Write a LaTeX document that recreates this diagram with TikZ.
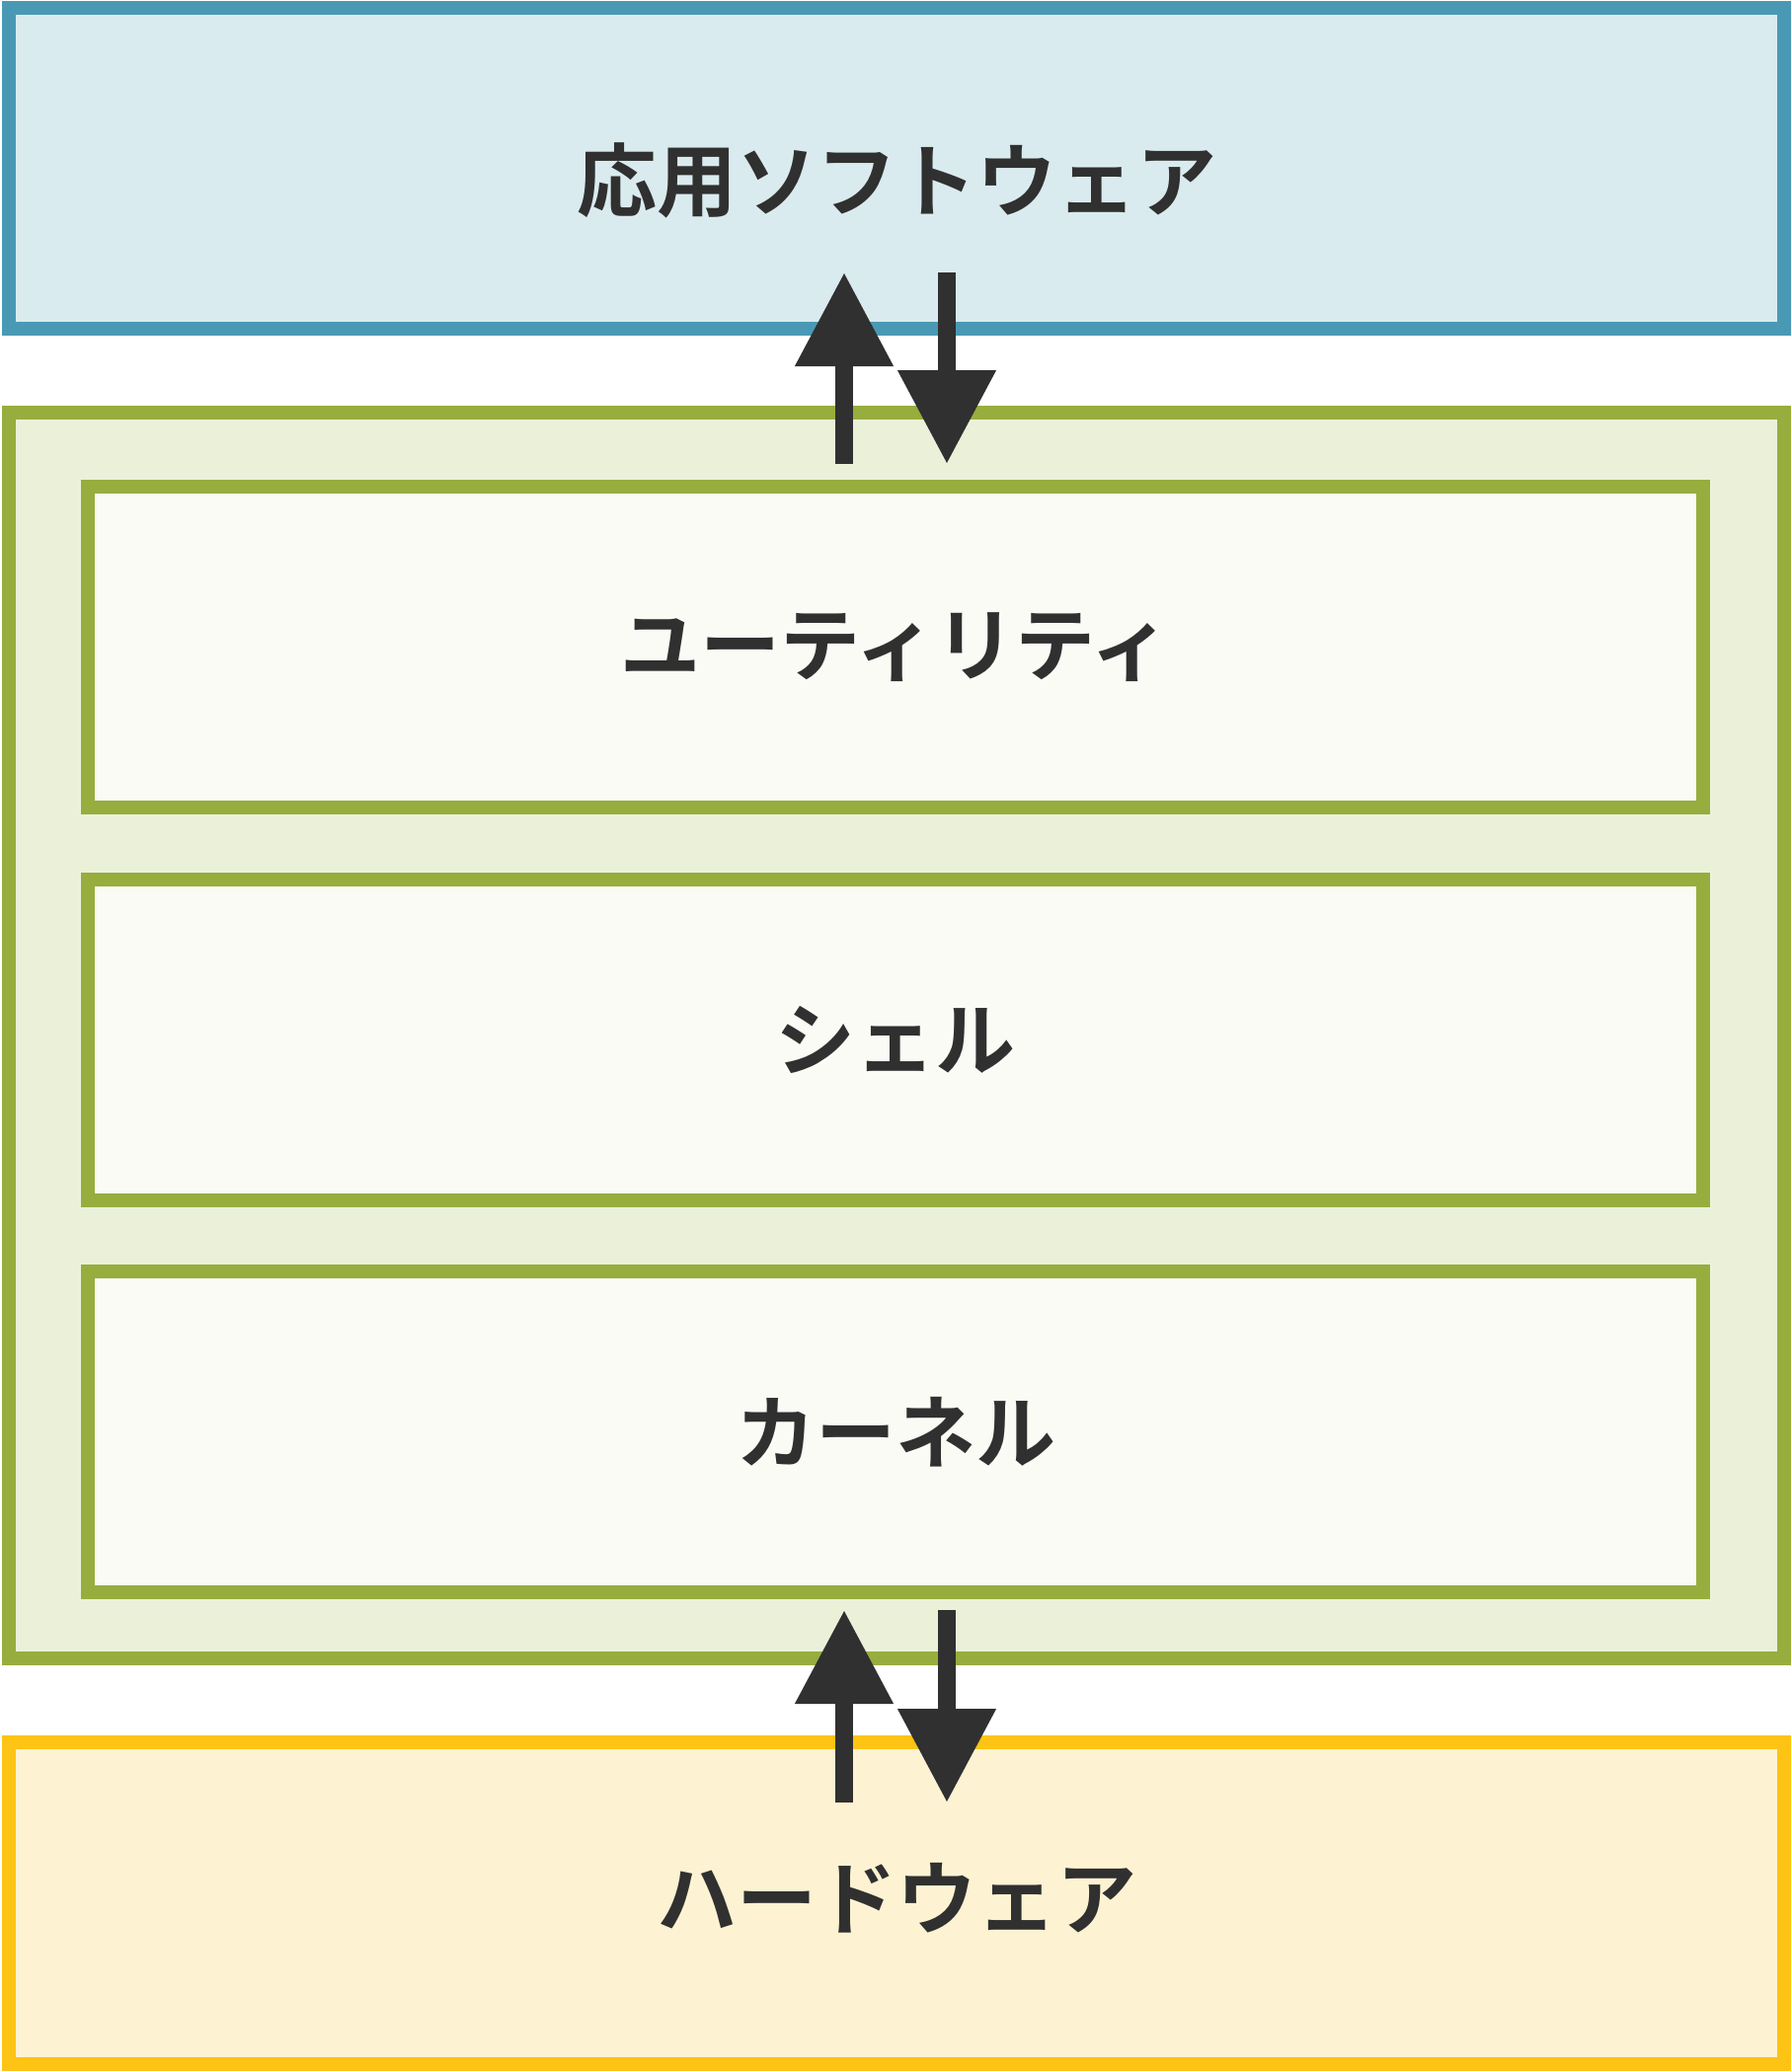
\documentclass[tikz,border=0pt]{standalone}
\usepackage{fontspec}
\setmainfont{Noto Sans CJK JP}[BoldFont={Noto Sans CJK JP Bold}]
\usetikzlibrary{arrows.meta}
\definecolor{appLine}{HTML}{4A99B4}
\definecolor{appFill}{HTML}{DAEBEF}
\definecolor{osLine}{HTML}{97AD3D}
\definecolor{osFill}{HTML}{EBF1D9}
\definecolor{partFill}{HTML}{FAFBF5}
\definecolor{hwLine}{HTML}{FDC315}
\definecolor{hwFill}{HTML}{FDF3D2}
\definecolor{ink}{HTML}{303030}
\tikzset{
  layer/.style={draw, line width=14pt, rectangle, inner sep=0pt, minimum width=1798pt},
  part/.style={draw=osLine, fill=partFill, line width=14pt, rectangle, inner sep=0pt,
    minimum width=1636pt, minimum height=325pt},
  lbl/.style={text=ink, font=\bfseries\fontsize{81}{90}\selectfont, inner sep=0pt},
  flow/.style={draw=ink, line width=18pt, -{Triangle[length=95pt, width=95pt]}}
}
\begin{document}
\begin{tikzpicture}[x=1pt, y=-1pt]
\useasboundingbox (0,0) rectangle (1815,2099);
\node[layer, draw=appLine, fill=appFill, minimum height=325pt] (app) at (908,170.5) {};
\node[layer, draw=osLine, fill=osFill, minimum height=1262pt] (os) at (908,1049) {};
\node[layer, draw=hwLine, fill=hwFill, minimum height=326pt] (hw) at (908,1928) {};
\foreach \k/\y in {util/655.5, shell/1053, kernel/1450.5}
    \node[part] (\k) at (907,\y) {};
\node[lbl] (tApp) at (app.center |- 0,183) {応用ソフトウェア};
\node[lbl] (tUtil) at (util) {ユーティリティ};
\node[lbl] (tShell) at (shell) {シェル};
\node[lbl] (tKernel) at (kernel) {カーネル};
\node[lbl] (tHw) at (hw.center |- 0,1923) {ハードウェア};
% arrows between the layers
\coordinate (upA) at (855,470);   \coordinate (upAtip) at (855,276);
\coordinate (dnA) at (959,276);   \coordinate (dnAtip) at (959,470);
\coordinate (upB) at (855,1826);  \coordinate (upBtip) at (855,1631);
\coordinate (dnB) at (959,1631);  \coordinate (dnBtip) at (959,1826);
\foreach \a/\b in {upA/upAtip, dnA/dnAtip, upB/upBtip, dnB/dnBtip}
    \draw[flow] (\a) -- (\b);
\end{tikzpicture}
\end{document}
